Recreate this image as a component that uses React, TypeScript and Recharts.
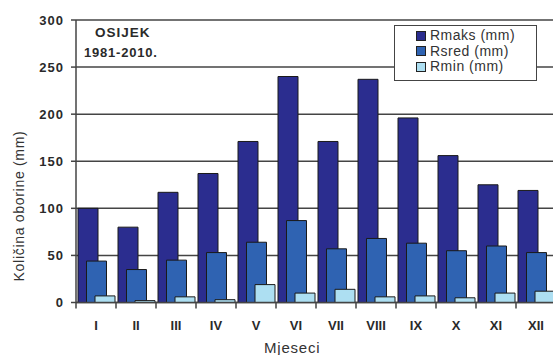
import { BarChart, Bar, XAxis, YAxis, CartesianGrid } from 'recharts';

// Monthly precipitation, Osijek 1981-2010
const months = ['I', 'II', 'III', 'IV', 'V', 'VI', 'VII', 'VIII', 'IX', 'X', 'XI', 'XII'];
const rMaks = [100, 80, 117, 137, 171, 240, 171, 237, 196, 156, 125, 119];
const rSred = [44, 35, 45, 53, 64, 87, 57, 68, 63, 55, 60, 53];
const rMin = [7, 2, 6, 3, 19, 10, 14, 6, 7, 5, 10, 12];
const yTicks = [0, 50, 100, 150, 200, 250, 300];

const series = [
    { key: 'rmaks', name: 'Rmaks (mm)', color: '#2b2d8f' },
    { key: 'rsred', name: 'Rsred (mm)', color: '#2f63b2' },
    { key: 'rmin', name: 'Rmin (mm)', color: '#addff2' },
];

const data = months.map((m, i) => ({
    month: m,
    rmaks: rMaks[i],
    rsred: rSred[i],
    rmin: rMin[i],
}));

const FONT = '"Liberation Sans", Arial, sans-serif';
const INK = '#2a2a2a';
const SOFT = '#333';
const LINE = '#444';

const textStyle = {
    position: 'absolute' as const,
    fontFamily: FONT,
    color: INK,
    whiteSpace: 'nowrap' as const,
};

// Label centred in the band, tick mark on the band's left edge
const MonthTick = ({ x, y, payload, index }: any) => {
    const half = 20;
    return (
        <g>
            <line x1={x - half} y1={y} x2={x - half} y2={y + 6} stroke={LINE} strokeWidth={1.5} />
            {index === months.length - 1 && (
                <line x1={x + half} y1={y} x2={x + half} y2={y + 6} stroke={LINE} strokeWidth={1.5} />
            )}
            <text x={x} y={y + 27} textAnchor="middle" fontSize={13} fontWeight="bold" fill={INK} fontFamily={FONT}>
                {payload.value}
            </text>
        </g>
    );
};

const LegendBox = () => (
    <div
        style={{
            position: 'absolute',
            left: 394,
            top: 25,
            border: `1.5px solid ${LINE}`,
            background: '#fff',
            width: 143,
            height: 56,
            boxSizing: 'border-box',
            padding: '2px 0 0 21px',
            fontFamily: FONT,
            fontSize: 14,
            letterSpacing: 0.5,
            color: SOFT,
            lineHeight: '15.5px',
        }}
    >
        {series.map((s) => (
            <div key={s.key} style={{ display: 'flex', alignItems: 'center', gap: 4 }}>
                <span style={{ width: 8, height: 8, background: s.color, border: '1px solid #222', display: 'inline-block' }} />
                <span>{s.name}</span>
            </div>
        ))}
    </div>
);

export default function App() {
    return (
        <div style={{ position: 'absolute', left: 0, top: 0, width: 553, height: 355, overflow: 'hidden', background: '#fff' }}>
            <BarChart
                width={580}
                height={355}
                data={data}
                margin={{ top: 20, right: 24, left: 0, bottom: 0 }}
                barGap={-11.5}
            >
                <CartesianGrid vertical={false} stroke={LINE} strokeWidth={1.5} />
                <XAxis
                    dataKey="month"
                    height={52.5}
                    tickLine={false}
                    tickSize={0}
                    tickMargin={0}
                    axisLine={{ stroke: LINE, strokeWidth: 1.5 }}
                    tick={<MonthTick />}
                    interval={0}
                />
                <YAxis
                    width={76}
                    domain={[0, 300]}
                    ticks={yTicks}
                    tickSize={5}
                    tickLine={{ stroke: LINE, strokeWidth: 1.5 }}
                    axisLine={{ stroke: LINE, strokeWidth: 1.5 }}
                    tick={{ fontSize: 13, fontWeight: 'bold', fill: INK, fontFamily: FONT, letterSpacing: 1 }}
                    tickMargin={7}
                />
                {series.map((s) => (
                    <Bar
                        key={s.key}
                        dataKey={s.key}
                        name={s.name}
                        fill={s.color}
                        stroke="#1a1a1a"
                        strokeWidth={1}
                        barSize={20}
                        isAnimationActive={false}
                    />
                ))}
            </BarChart>
            <LegendBox />
            <div style={{ ...textStyle, left: 95, top: 24.5, fontSize: 13.5, fontWeight: 'bold', letterSpacing: 1 }}>OSIJEK</div>
            <div style={{ ...textStyle, left: 84, top: 45, fontSize: 13, fontWeight: 'bold', letterSpacing: 0.8 }}>1981-2010.</div>
            <div
                style={{
                    ...textStyle,
                    left: 19,
                    top: 206,
                    fontSize: 14,
                    letterSpacing: 0.7,
                    color: SOFT,
                    transform: 'translate(-50%, -50%) rotate(-90deg)',
                }}
            >
                Količina oborine (mm)
            </div>
            <div style={{ ...textStyle, left: 264, top: 338.5, fontSize: 15, letterSpacing: 0.8, color: SOFT }}>Mjeseci</div>
        </div>
    );
}
